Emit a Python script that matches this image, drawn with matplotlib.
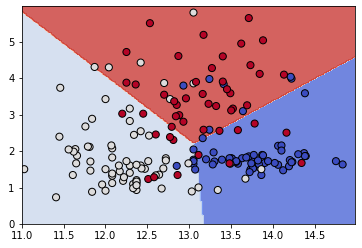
import numpy as np
import matplotlib
matplotlib.use("Agg")
import matplotlib.pyplot as plt

# wine data: alcohol (x) vs malic acid (y), three classes
alcohol_0 = [14.23, 13.2, 13.16, 14.37, 13.24, 14.2, 14.39, 14.06, 14.83, 13.86,
             14.1, 14.12, 13.75, 14.75, 14.38, 13.63, 14.3, 13.83, 14.19, 13.64,
             14.06, 12.93, 13.71, 12.85, 13.5, 13.05, 13.39, 13.3, 13.87, 14.02,
             13.73, 13.58, 13.68, 13.76, 13.51, 13.48, 13.28, 13.05, 13.07, 14.22,
             13.56, 13.41, 13.88, 13.24, 13.05, 14.21, 14.38, 13.9, 14.1, 13.94,
             13.05, 13.83, 13.82, 13.77, 13.74, 13.56, 14.22, 13.29, 13.72]
malic_0 = [1.71, 1.78, 2.36, 1.95, 2.59, 1.76, 1.87, 2.15, 1.64, 1.35,
           2.16, 1.48, 1.73, 1.73, 1.87, 1.81, 1.92, 1.57, 1.59, 3.1,
           1.63, 3.8, 1.86, 1.6, 1.81, 2.05, 1.77, 1.72, 1.9, 1.68,
           1.5, 1.66, 1.83, 1.53, 1.8, 1.81, 1.64, 1.65, 1.5, 3.99,
           1.71, 3.84, 1.89, 3.98, 1.77, 4.04, 3.59, 1.68, 2.02, 1.73,
           1.73, 1.65, 1.75, 1.9, 1.67, 1.73, 1.7, 1.97, 1.43]

alcohol_1 = [12.37, 12.33, 12.64, 13.67, 12.37, 12.17, 12.37, 13.11, 12.37, 13.34,
             12.21, 12.29, 13.86, 13.49, 12.99, 11.96, 11.66, 13.03, 11.84, 12.33,
             12.7, 12.0, 12.72, 12.08, 13.05, 11.84, 12.67, 12.16, 11.65, 11.64,
             12.08, 12.08, 12.0, 12.69, 12.29, 11.62, 12.47, 11.81, 12.29, 12.37,
             12.29, 12.08, 12.6, 12.34, 11.82, 12.51, 12.42, 12.25, 12.72, 12.22,
             11.61, 11.46, 12.52, 11.76, 11.41, 12.08, 11.03, 11.82, 12.42, 12.77,
             12.0, 11.45, 11.56, 12.42, 13.05, 11.87, 12.07, 12.43, 11.79, 12.37,
             12.04]
malic_1 = [0.94, 1.1, 1.36, 1.25, 1.13, 1.45, 1.21, 1.01, 1.17, 0.94,
           1.19, 1.61, 1.51, 1.66, 1.67, 1.09, 1.88, 0.9, 2.89, 0.99,
           3.87, 0.92, 1.81, 1.13, 3.86, 0.89, 0.98, 1.61, 1.67, 2.06,
           1.33, 1.83, 1.51, 1.53, 2.83, 1.99, 1.52, 2.12, 1.41, 1.07,
           3.17, 2.08, 1.34, 2.45, 1.72, 1.73, 2.55, 1.73, 1.75, 1.29,
           1.35, 3.74, 2.43, 2.68, 0.74, 1.39, 1.51, 1.47, 1.61, 3.43,
           3.43, 2.4, 2.05, 4.43, 5.8, 4.31, 2.16, 1.53, 2.13, 1.63,
           4.3]

alcohol_2 = [12.86, 12.88, 12.81, 12.7, 12.51, 12.6, 12.25, 12.53, 13.49, 12.84,
             12.93, 13.36, 13.52, 13.62, 12.25, 13.16, 13.88, 12.87, 13.32, 13.08,
             13.5, 12.79, 13.11, 13.23, 12.58, 13.17, 13.84, 12.45, 14.34, 13.48,
             12.36, 13.69, 12.85, 12.96, 13.78, 13.73, 13.45, 12.82, 13.58, 13.4,
             12.2, 12.77, 14.16, 13.71, 13.4, 13.27, 13.17, 14.13]
malic_2 = [1.35, 2.99, 2.31, 3.55, 1.24, 2.46, 4.72, 5.51, 3.59, 2.96,
           2.81, 2.56, 3.17, 4.95, 3.88, 3.57, 5.04, 4.61, 3.24, 3.9,
           3.12, 2.67, 1.9, 3.3, 1.29, 5.19, 4.12, 3.03, 1.68, 1.67,
           3.83, 3.26, 3.27, 3.45, 2.76, 4.36, 3.7, 3.37, 2.58, 4.6,
           3.03, 2.39, 2.51, 5.65, 3.91, 4.28, 2.59, 4.1]

# linear class scores (weights for alcohol, malic acid)
coef = np.array([[0.0, 0.0],
                 [-3.298, -0.1748],
                 [-1.23, 1.0]])
intercept = np.array([0.0, 43.447, 13.839])

X = np.column_stack([alcohol_0 + alcohol_1 + alcohol_2,
                     malic_0 + malic_1 + malic_2])
y = np.array([0] * len(alcohol_0) + [1] * len(alcohol_1) + [2] * len(alcohol_2))

# mesh for the decision surface
h = 0.02
xx, yy = np.meshgrid(np.arange(11.0, 15.0, h), np.arange(0.0, 6.0, h))
grid = np.c_[xx.ravel(), yy.ravel()]
Z = np.argmax(grid @ coef.T + intercept, axis=1).reshape(xx.shape)

fig = plt.figure(figsize=(362 / 72, 248 / 72), dpi=72)
ax = fig.add_axes([21.7 / 362, (248 - 224.3) / 248, 333.5 / 362, 218.3 / 248])

ax.contourf(xx, yy, Z, cmap=plt.cm.coolwarm, alpha=0.8)
ax.scatter(X[:, 0], X[:, 1], c=y, cmap=plt.cm.coolwarm, s=50, edgecolors='k')
ax.set_xlim(xx.min(), xx.max())
ax.set_ylim(yy.min(), yy.max())

fig.savefig("out.png", dpi=72)
